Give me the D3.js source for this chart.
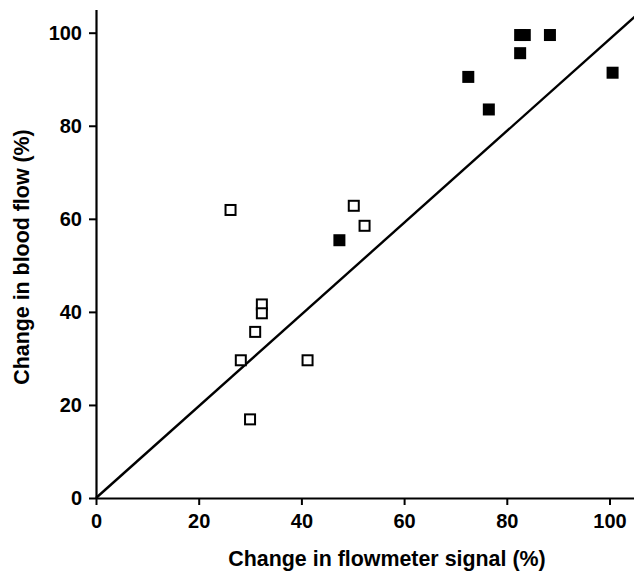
<!DOCTYPE html>
<html>
<head>
<meta charset="utf-8">
<script src="https://cdn.jsdelivr.net/npm/d3@7"></script>
<style>
  html, body { margin: 0; padding: 0; background: #fff; }
  svg text { font-family: "Liberation Sans", Arial, Helvetica, sans-serif; font-weight: bold; fill: #000; }
</style>
</head>
<body>
<svg id="chart" width="634" height="575"></svg>
<script>
// Open squares: flowmeter signal vs blood flow, first group
const openX = [26.2, 50.2, 52.3, 32.3, 32.3, 31.0, 28.2, 30.0, 41.2];
const openY = [61.9, 62.8, 58.5, 41.6, 39.7, 35.7, 29.6, 16.9, 29.6];
// Filled squares: second group
const filledX = [47.4, 72.5, 76.5, 82.6, 82.6, 83.5, 88.4, 100.6];
const filledY = [55.4, 90.5, 83.5, 95.6, 99.5, 99.5, 99.5, 91.4];
// Line of identity endpoints
const lineX = [0, 105];
const lineY = [0, 103.5];
const xTicks = [0, 20, 40, 60, 80, 100];
const yTicks = [0, 20, 40, 60, 80, 100];
const xTitle = "Change in flowmeter signal (%)";
const yTitle = "Change in blood flow (%)";

const svg = d3.select("#chart");
const x = d3.scaleLinear().domain([0, 105]).range([96, 96 + 105 * 5.135]);
const y = d3.scaleLinear().domain([0, 105]).range([498, 498 - 105 * 4.653]);

// Axes
const xAxis = d3.axisBottom(x).tickValues(xTicks).tickSize(7).tickPadding(9).tickSizeOuter(0);
const yAxis = d3.axisLeft(y).tickValues(yTicks).tickSize(7).tickPadding(7).tickSizeOuter(0);

const gx = svg.append("g").attr("transform", `translate(0,${y(0)})`).call(xAxis);
const gy = svg.append("g").attr("transform", `translate(${x(0)},0)`).call(yAxis);
[gx, gy].forEach(g => {
  g.select(".domain").attr("stroke", "#000").attr("stroke-width", 2.2);
  g.selectAll(".tick line").attr("stroke", "#000").attr("stroke-width", 2);
  g.selectAll(".tick text").style("font-size", "20px").attr("fill", "#000");
});

// Identity line
svg.append("line")
  .attr("x1", x(lineX[0])).attr("y1", y(lineY[0]))
  .attr("x2", x(lineX[1])).attr("y2", y(lineY[1]))
  .attr("stroke", "#000").attr("stroke-width", 2.4);

// Open squares
const so = 10;
svg.append("g").selectAll("rect").data(openX.map((v, i) => [v, openY[i]])).join("rect")
  .attr("x", d => x(d[0]) - so / 2).attr("y", d => y(d[1]) - so / 2)
  .attr("width", so).attr("height", so)
  .attr("fill", "#fff").attr("stroke", "#000").attr("stroke-width", 2);

// Filled squares
const sf = 12;
svg.append("g").selectAll("rect").data(filledX.map((v, i) => [v, filledY[i]])).join("rect")
  .attr("x", d => x(d[0]) - sf / 2).attr("y", d => y(d[1]) - sf / 2)
  .attr("width", sf).attr("height", sf)
  .attr("fill", "#000");

// Axis titles
svg.append("text").attr("x", 387).attr("y", 566).attr("text-anchor", "middle")
  .style("font-size", "21.4px").text(xTitle);
svg.append("text").attr("transform", "translate(29,257) rotate(-90)").attr("text-anchor", "middle")
  .style("font-size", "21.4px").text(yTitle);
</script>
</body>
</html>
